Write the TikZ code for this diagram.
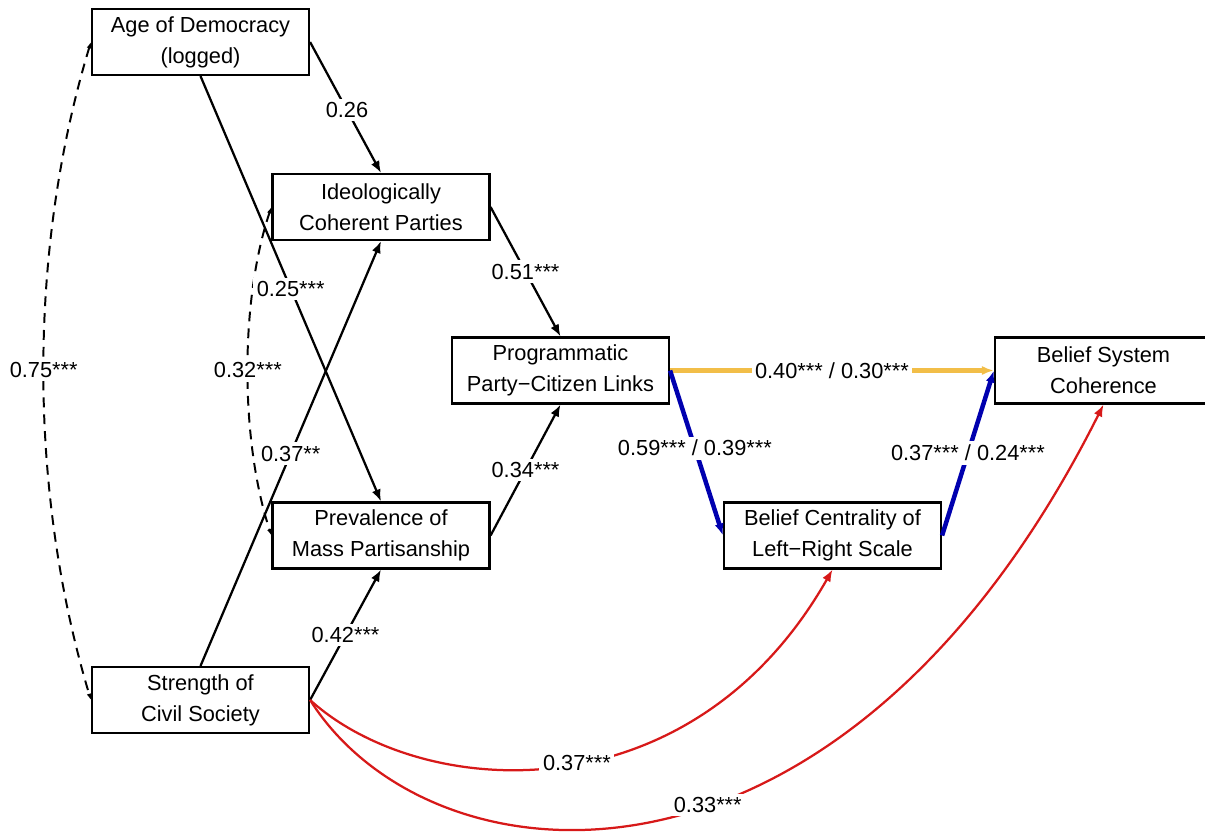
\documentclass[tikz,border=0pt]{standalone}
\usepackage{fontspec}
\setmainfont{Liberation Sans}
\usetikzlibrary{arrows.meta}
\definecolor{pathorange}{RGB}{242,190,72}
\definecolor{pathblue}{RGB}{0,0,175}
\definecolor{pathred}{RGB}{215,25,25}
\tikzset{every node/.style={font=\fontsize{15.5}{22}\selectfont}}
\tikzset{var/.style={rectangle,draw,line width=1.5pt,minimum width=5.425cm,minimum height=1.65cm,align=center,inner sep=0pt}}
\tikzset{lab/.style={fill=white,inner sep=2.5pt}}
\tikzset{eff/.style={line width=1.6pt,-{Latex[length=3mm,width=2.3mm]}}}
\tikzset{cov/.style={line width=1.4pt,dash pattern=on 7pt off 5pt,{Latex[length=1.6mm,width=1.2mm]}-{Latex[length=1.6mm,width=1.2mm]}}}

\begin{document}
\begin{tikzpicture}[x=0.025cm,y=-0.025cm]
      \useasboundingbox (0,0) rectangle (1205,837);
      \node[var] (age) at (200.5,42) {Age of Democracy\\(logged)};
      \node[var] (ideo) at (381,207) {Ideologically\\Coherent Parties};
      \node[var] (prev) at (381,535.5) {Prevalence of\\Mass Partisanship};
      \node[var] (civil) at (200.5,700) {Strength of\\Civil Society};
      \node[var] (prog) at (560.5,370.5) {Programmatic\\Party−Citizen Links};
      \node[var] (cent) at (832.5,535.5) {Belief Centrality of\\Left−Right Scale};
      \node[var] (bsc) at (1103.5,370.5) {Belief System\\Coherence};
        \draw[cov] (age.west) .. controls (28,250) and (28,490) .. node[lab,pos=0.5] {0.75***} (civil.west);
        \draw[cov] (ideo.west) .. controls (240,300) and (240,440) .. node[lab,pos=0.5] {0.32***} (prev.west);
        \draw[eff] (age.east) -- node[lab,pos=0.52] {0.26} (ideo.north);
        \draw[eff] (age.south) -- node[lab] {0.25***} (prev.north);
        \draw[eff] (civil.north) -- node[lab] {0.37**} (ideo.south);
        \draw[eff] (civil.east) -- node[lab] {0.42***} (prev.south);
        \draw[eff] (ideo.east) -- node[lab] {0.51***} (prog.north);
        \draw[eff] (prev.east) -- node[lab] {0.34***} (prog.south);
        \draw[eff,pathorange,line width=3pt] (prog.east) -- node[lab,text=black] {0.40*** / 0.30***} (bsc.west);
        \draw[eff,pathblue,line width=3.2pt] (prog.east) -- node[lab,text=black,pos=0.47] {0.59*** / 0.39***} (cent.west);
        \draw[eff,pathblue,line width=3.2pt] (cent.east) -- node[lab,text=black] {0.37*** / 0.24***} (bsc.west);
        \draw[eff,pathred] (civil.east) .. controls (420,800) and (690,820) .. node[lab,text=black,pos=0.53] {0.37***} (cent.south);
        \draw[eff,pathred] (civil.east) .. controls (430,890) and (840,930) .. node[lab,text=black,pos=0.56] {0.33***} (bsc.south);
    \end{tikzpicture}
\end{document}
